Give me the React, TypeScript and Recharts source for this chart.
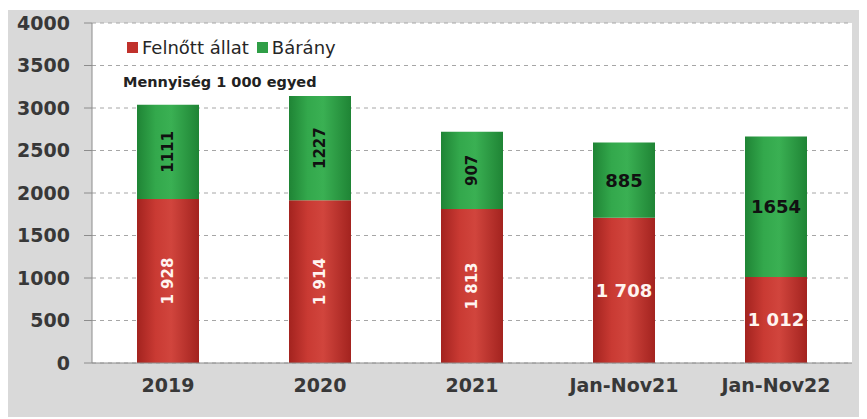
import React from "react";
import {
  BarChart,
  Bar,
  XAxis,
  YAxis,
  CartesianGrid,
  Legend,
  LabelList,
} from "recharts";

const categories = ["2019", "2020", "2021", "Jan-Nov21", "Jan-Nov22"];
const adult = [1928, 1914, 1813, 1708, 1012];
const lamb = [1111, 1227, 907, 885, 1654];
const yTicks = [0, 500, 1000, 1500, 2000, 2500, 3000, 3500, 4000];

const data = categories.map((name, i) => ({
  name,
  adult: adult[i],
  lamb: lamb[i],
}));

const FONT = "'DejaVu Sans', Verdana, sans-serif";

const fmtSpace = (v: number) =>
  String(v).replace(/\B(?=(\d{3})+(?!\d))/g, " ");

const makeLabel =
  (color: string, spaced: boolean) =>
  (props: any) => {
    const { x, y, width, height, value, index } = props;
    const cx = x + width / 2;
    const cy = y + height / 2;
    const text = spaced ? fmtSpace(value) : String(value);
    const rotated = index < 3;
    return (
      <text
        x={cx}
        y={cy}
        fill={color}
        fontSize={rotated ? 15 : 18}
        fontWeight="bold"
        fontFamily={FONT}
        textAnchor="middle"
        dominantBaseline="central"
        transform={rotated ? `rotate(-90 ${cx} ${cy})` : undefined}
      >
        {text}
      </text>
    );
  };

const swatch = (color: string) => (
  <span
    style={{
      width: 11,
      height: 11,
      background: color,
      display: "inline-block",
      marginRight: 4,
    }}
  />
);

const renderLegend = () => (
  <div style={{ fontFamily: FONT, fontSize: 18, color: "#262626", lineHeight: "20px" }}>
    <span style={{ display: "inline-flex", alignItems: "center" }}>
      {swatch("#c0312b")}
      Felnőtt állat
    </span>
    <span style={{ display: "inline-flex", alignItems: "center", marginLeft: 8 }}>
      {swatch("#2f9e46")}
      Bárány
    </span>
  </div>
);

const tickStyle = { fill: "#383838", fontSize: 19, fontWeight: "bold", fontFamily: FONT };

export default function App() {
  return (
    <div
      style={{
        position: "relative",
        top: 2,
        width: 852,
        height: 409,
        background: "#d9d9d9",
        fontFamily: FONT,
      }}
    >
      <BarChart
        width={852}
        height={409}
        data={data}
        barSize={62}
        margin={{ top: 13, right: 8, bottom: 0, left: 0 }}
      >
        <defs>
          <linearGradient id="redGrad" x1="0" y1="0" x2="1" y2="0">
            <stop offset="0%" stopColor="#a3231f" />
            <stop offset="30%" stopColor="#c93a33" />
            <stop offset="55%" stopColor="#d1453d" />
            <stop offset="100%" stopColor="#a3231f" />
          </linearGradient>
          <linearGradient id="greenGrad" x1="0" y1="0" x2="1" y2="0">
            <stop offset="0%" stopColor="#1f8435" />
            <stop offset="30%" stopColor="#33a84c" />
            <stop offset="55%" stopColor="#3ab053" />
            <stop offset="100%" stopColor="#1f8435" />
          </linearGradient>
        </defs>
        <CartesianGrid
          vertical={false}
          fill="#ffffff"
          stroke="#a6a6a6"
          strokeDasharray="4 4"
        />
        <XAxis
          dataKey="name"
          height={56}
          stroke="#8c8c8c"
          tickLine={false}
          tick={tickStyle}
          tickMargin={10}
        />
        <YAxis
          width={84}
          domain={[0, 4000]}
          ticks={yTicks}
          stroke="#8c8c8c"
          tickSize={8}
          tickMargin={14}
          tick={tickStyle}
        />
        <Legend
          verticalAlign="middle"
          align="center"
          content={renderLegend}
          wrapperStyle={{ top: 27, left: 119, width: 320 }}
        />
        <Bar
          dataKey="adult"
          stackId="a"
          fill="url(#redGrad)"
          isAnimationActive={false}
        >
          <LabelList dataKey="adult" content={makeLabel("#fff4f0", true)} />
        </Bar>
        <Bar
          dataKey="lamb"
          stackId="a"
          fill="url(#greenGrad)"
          isAnimationActive={false}
        >
          <LabelList dataKey="lamb" content={makeLabel("#111", false)} />
        </Bar>
      </BarChart>
      <div
        style={{
          position: "absolute",
          left: 115,
          top: 64,
          fontSize: 14.5,
          fontWeight: "bold",
          color: "#222",
        }}
      >
        Mennyiség 1 000 egyed
      </div>
    </div>
  );
}
